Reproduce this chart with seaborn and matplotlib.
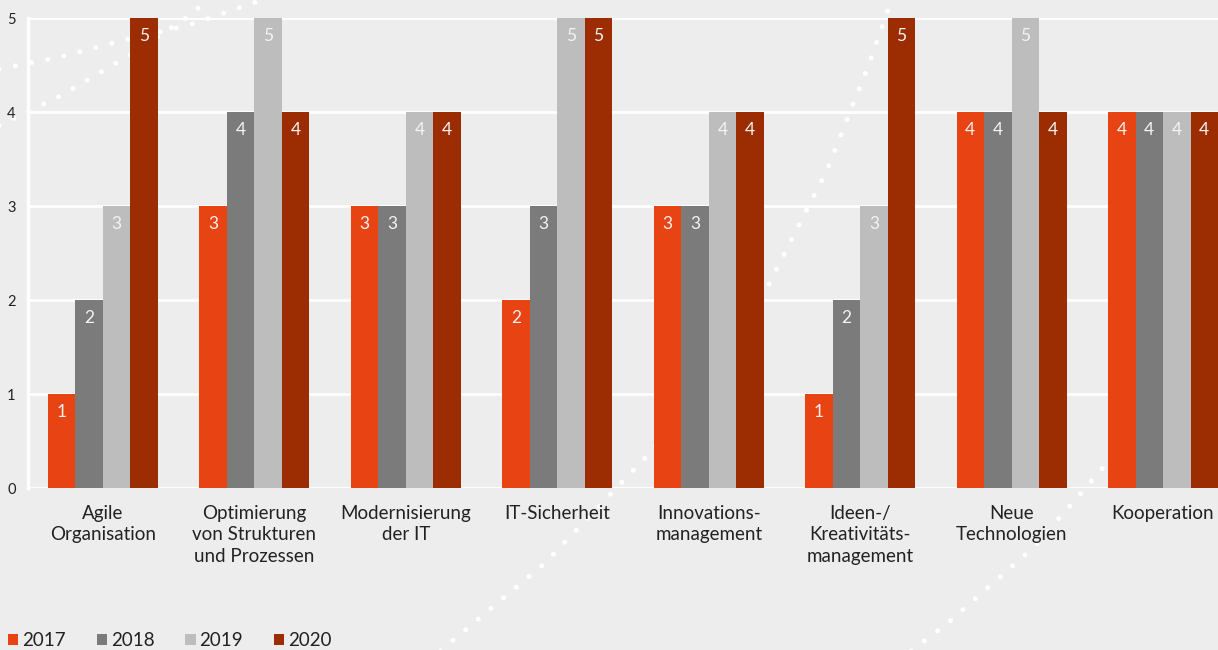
import numpy as np
import pandas as pd
import matplotlib.pyplot as plt
import seaborn as sns
from matplotlib.lines import Line2D
from matplotlib.patches import Patch

sns.set_style("white")
plt.rcParams['font.family'] = ['Lato', 'DejaVu Sans']

categories = ["Agile\nOrganisation", "Optimierung\nvon Strukturen\nund Prozessen",
              "Modernisierung\nder IT", "IT-Sicherheit", "Innovations-\nmanagement",
              "Ideen-/\nKreativitäts-\nmanagement", "Neue\nTechnologien", "Kooperation"]
years = ["2017", "2018", "2019", "2020"]
v2017 = [1, 3, 3, 2, 3, 1, 4, 4]
v2018 = [2, 4, 3, 3, 3, 2, 4, 4]
v2019 = [3, 5, 4, 5, 4, 3, 5, 4]
v2020 = [5, 4, 4, 5, 4, 5, 4, 4]
colors = ['#e84313', '#7b7b7b', '#bdbdbd', '#9c2d03']

df = pd.DataFrame({
    'category': categories * 4,
    'year': np.repeat(years, len(categories)),
    'value': v2017 + v2018 + v2019 + v2020,
})

bg = '#ededed'
W, H = 1218, 650
fig = plt.figure(figsize=(W / 100, H / 100), dpi=100, facecolor=bg)
ax = fig.add_axes([28 / W, 1 - 488 / H, 1 - 28 / W, (488 - 18) / H])
ax.patch.set_visible(False)

# decorative dotted curves in the background (pixel anchors)
decor = [
    [(-10, 71), (60, 57), (124, 40), (186, 26), (262, 0), (280, -6)],
    [(-10, 130), (60, 96), (130, 55), (183, 20), (215, -5)],
    [(420, 668), (545, 563), (646, 457), (720, 370), (768, 286), (827, 170), (869, 64), (895, -10)],
    [(880, 675), (949, 622), (1034, 547), (1108, 462), (1170, 395)],
]
for path in decor:
    xs = [p[0] / W for p in path]
    ys = [1 - p[1] / H for p in path]
    fig.add_artist(Line2D(xs, ys, transform=fig.transFigure, color='white',
                          lw=3.6, linestyle=(0, (0.01, 3.3)),
                          dash_capstyle='round', solid_capstyle='round', zorder=-1))

sns.barplot(data=df, x='category', y='value', hue='year', palette=colors,
            width=0.727, saturation=1, linewidth=0, legend=False, ax=ax)

for cont in ax.containers:
    ax.bar_label(cont, padding=-19, color='#f4f4f4', fontsize=12.5)

ax.set_ylim(0, 5)
ax.set_xlim(-0.495, 7.363)
ax.set_yticks(range(6))
ax.grid(axis='y', color='white', lw=2)
ax.set_axisbelow(True)
for s in ['top', 'right', 'bottom']:
    ax.spines[s].set_visible(False)
ax.spines['left'].set_color('white')
ax.spines['left'].set_linewidth(2.5)

ax.set_xlabel('')
ax.set_ylabel('')
ax.tick_params(axis='y', length=3, width=2, color='white', pad=6,
               labelsize=10.5, labelcolor='#222222')
ax.tick_params(axis='x', length=0, pad=12, labelsize=13.5, labelcolor='#222222')
for lbl in ax.get_xticklabels():
    lbl.set_linespacing(1.32)

handles = [Patch(facecolor=c, edgecolor='none', label=y) for c, y in zip(colors, years)]
fig.legend(handles=handles, loc='lower left', bbox_to_anchor=(8 / W, 1 / H),
           ncol=4, frameon=False, fontsize=13.5, handlelength=0.55, handleheight=0.55,
           handletextpad=0.2, columnspacing=1.65, borderpad=0, borderaxespad=0,
           labelcolor='#222222')

fig.savefig('out.png', dpi=100, facecolor=bg)
